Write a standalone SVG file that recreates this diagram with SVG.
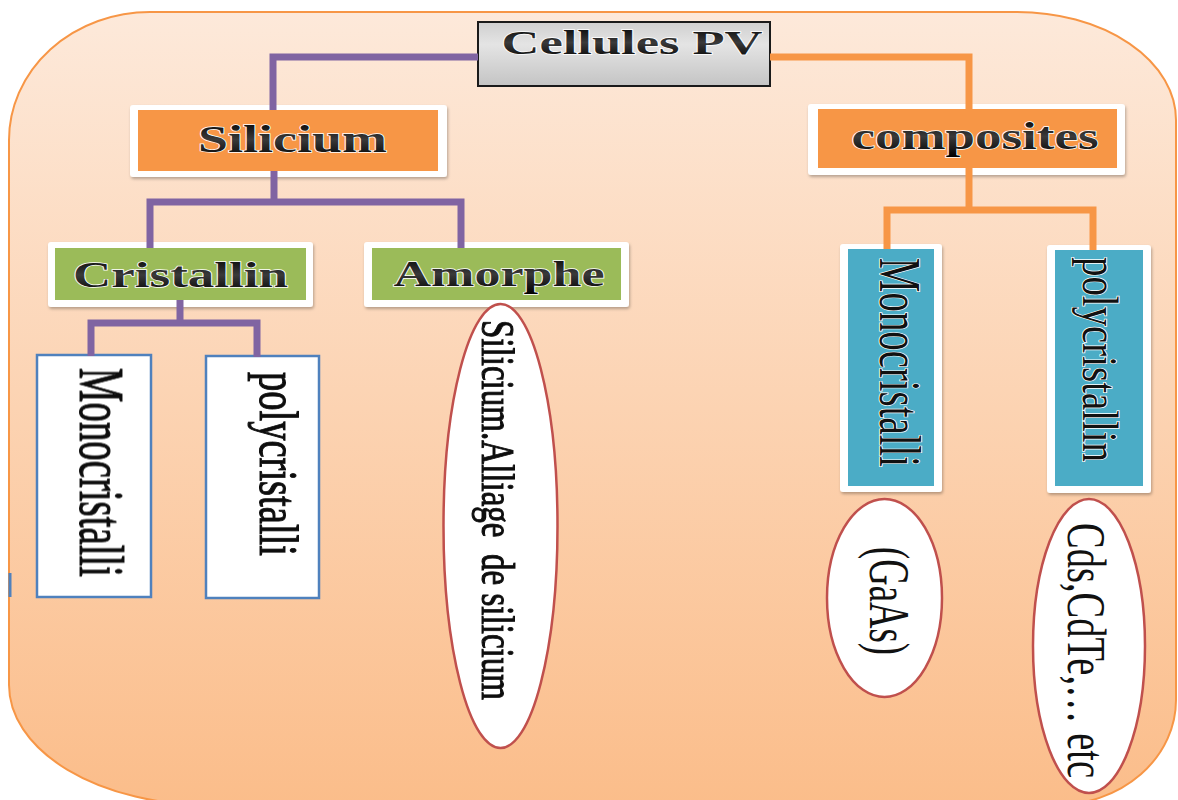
<svg xmlns="http://www.w3.org/2000/svg" width="1178" height="800" viewBox="0 0 1178 800">
  <defs>
    <linearGradient id="bg" x1="0" y1="0" x2="0" y2="1">
      <stop offset="0" stop-color="#fde9da"/>
      <stop offset="1" stop-color="#fbbd8a"/>
    </linearGradient>
    <linearGradient id="gray" x1="0" y1="0" x2="0" y2="1">
      <stop offset="0" stop-color="#cfcfcf"/>
      <stop offset="0.35" stop-color="#e4e4e4"/>
      <stop offset="1" stop-color="#c4c4c4"/>
    </linearGradient>
    <linearGradient id="ink" x1="0" y1="0" x2="0" y2="1">
      <stop offset="0" stop-color="#000"/>
      <stop offset="0.5" stop-color="#3a3a3a"/>
      <stop offset="1" stop-color="#000"/>
    </linearGradient>
    <filter id="sh" x="-10%" y="-10%" width="125%" height="130%">
      <feDropShadow dx="1" dy="2" stdDeviation="1.5" flood-color="#000" flood-opacity="0.28"/>
    </filter>
    <filter id="soft" x="-5%" y="-5%" width="110%" height="110%">
      <feGaussianBlur stdDeviation="0.5"/>
    </filter>
  </defs>
  <style>
    .frame { fill: #ffffff; filter: url(#sh); }
    .orange { fill: #f79646; }
    .green { fill: #9bbb59; }
    .teal { fill: #4bacc6; }
    .hl { font-family: "Liberation Serif", "Times New Roman", serif; font-weight: bold; fill: url(#ink); stroke: #ffffff; stroke-width: 1.4; paint-order: stroke; text-anchor: middle; }
    .vt { font-family: "Liberation Serif", "Times New Roman", serif; fill: #111; stroke: #111; stroke-width: 0.7; text-anchor: middle; }
    .vt2 { font-family: "Liberation Serif", "Times New Roman", serif; fill: #111; stroke: #ffffff; stroke-width: 1.2; paint-order: stroke; text-anchor: middle; }
    .wbox { fill: #ffffff; stroke: #4f81bd; stroke-width: 2.5; }
    .oval { fill: #ffffff; stroke: #c0504d; stroke-width: 2.5; }
    .cp { fill: none; stroke: #8064a2; stroke-width: 7; }
    .co { fill: none; stroke: #f79646; stroke-width: 7; }
  </style>

  <rect x="0" y="0" width="1178" height="800" fill="#ffffff"/>
  <g id="background">
    <path d="M 150,12 H 1017 A 159,108 0 0 1 1176,120 V 700 A 120,105 0 0 1 1056,805 H 209 A 200,120 0 0 1 9,685 V 140 A 141,128 0 0 1 150,12 Z" fill="url(#bg)" stroke="#f79646" stroke-width="2"/>
    <line x1="10" y1="573" x2="10" y2="597" stroke="#4f81bd" stroke-width="3"/>
  </g>

  <g id="node-cellules">
    <rect x="478" y="22" width="292" height="64" fill="url(#gray)" stroke="#1a1a1a" stroke-width="2"/>
    <text class="hl" x="632" y="54" font-size="34" textLength="261" lengthAdjust="spacingAndGlyphs">Cellules PV</text>
  </g>

  <g id="node-silicium">
    <rect class="frame" x="130" y="105" width="317" height="72" rx="3"/>
    <rect class="orange" x="138" y="110" width="300" height="61"/>
    <text class="hl" x="292.5" y="152" font-size="37" textLength="189" lengthAdjust="spacingAndGlyphs">Silicium</text>
  </g>

  <g id="node-composites">
    <rect class="frame" x="808" y="104" width="317" height="71" rx="3"/>
    <rect class="orange" x="818" y="109" width="299" height="59"/>
    <text class="hl" x="975" y="149" font-size="37" textLength="247" lengthAdjust="spacingAndGlyphs">composites</text>
  </g>

  <g id="node-cristallin">
    <rect class="frame" x="48" y="242" width="265" height="65" rx="3"/>
    <rect class="green" x="55" y="248" width="251" height="52"/>
    <text class="hl" x="180.5" y="287" font-size="36" textLength="215" lengthAdjust="spacingAndGlyphs">Cristallin</text>
  </g>

  <g id="node-amorphe">
    <rect class="frame" x="364" y="242" width="265" height="65" rx="3"/>
    <rect class="green" x="372" y="248" width="249" height="52"/>
    <text class="hl" x="499" y="286" font-size="36" textLength="211" lengthAdjust="spacingAndGlyphs">Amorphe</text>
  </g>

  <g id="node-si-mono">
    <rect class="wbox" x="37" y="355" width="114" height="242"/>
    <text class="vt" filter="url(#soft)" transform="translate(80,472.5) scale(1.5,1) rotate(90)" x="0" y="0" font-size="42" textLength="209" lengthAdjust="spacingAndGlyphs">Monocristalli</text>
  </g>

  <g id="node-si-poly">
    <rect class="wbox" x="206" y="356" width="113" height="242"/>
    <text class="vt" filter="url(#soft)" transform="translate(260,464) scale(1.5,1) rotate(90)" x="0" y="0" font-size="36" textLength="184" lengthAdjust="spacingAndGlyphs">polycristalli</text>
  </g>

  <g id="node-si-amorphe">
    <ellipse class="oval" cx="500.5" cy="526" rx="57" ry="222"/>
    <text class="vt" filter="url(#soft)" xml:space="preserve" transform="translate(482,510) scale(1.5,1) rotate(90)" x="0" y="0" font-size="31" textLength="380" lengthAdjust="spacingAndGlyphs">Silicium.Alliage  de silicium</text>
  </g>

  <g id="node-comp-mono">
    <rect class="frame" x="840" y="244" width="102" height="248" rx="3"/>
    <rect class="teal" x="848" y="249" width="86" height="237"/>
    <text class="vt2" transform="translate(880,362.5) scale(1.5,1) rotate(90)" x="0" y="0" font-size="39" textLength="209" lengthAdjust="spacingAndGlyphs">Monocristalli</text>
  </g>

  <g id="node-comp-poly">
    <rect class="frame" x="1047" y="245" width="104" height="248" rx="3"/>
    <rect class="teal" x="1055" y="250" width="88" height="236"/>
    <text class="vt2" transform="translate(1083,359.5) scale(1.5,1) rotate(90)" x="0" y="0" font-size="34" textLength="205" lengthAdjust="spacingAndGlyphs">polycristallin</text>
  </g>

  <g id="node-gaas">
    <ellipse class="oval" cx="884.5" cy="598" rx="57.5" ry="99"/>
    <text class="vt2" transform="translate(870,601) scale(1.5,1) rotate(90)" x="0" y="0" font-size="38" textLength="108" lengthAdjust="spacingAndGlyphs">(GaAs)</text>
  </g>

  <g id="node-cds">
    <ellipse class="oval" cx="1089" cy="646" rx="56" ry="147"/>
    <text class="vt2" transform="translate(1068,650.5) scale(1.5,1) rotate(90)" x="0" y="0" font-size="37" textLength="255" lengthAdjust="spacingAndGlyphs">Cds,CdTe,… etc</text>
  </g>

  <g id="connectors">
    <path class="cp" d="M 478,57 H 273 V 110"/>
    <path class="cp" d="M 274,171 V 202"/>
    <path class="cp" d="M 150,248 V 202 H 461 V 248"/>
    <path class="cp" d="M 180,300 V 323"/>
    <path class="cp" d="M 91,356 V 323 H 257 V 357"/>
    <path class="co" d="M 770,57 H 969 V 109"/>
    <path class="co" d="M 969,168 V 210"/>
    <path class="co" d="M 887,249 V 210 H 1093 V 250"/>
  </g>
</svg>
